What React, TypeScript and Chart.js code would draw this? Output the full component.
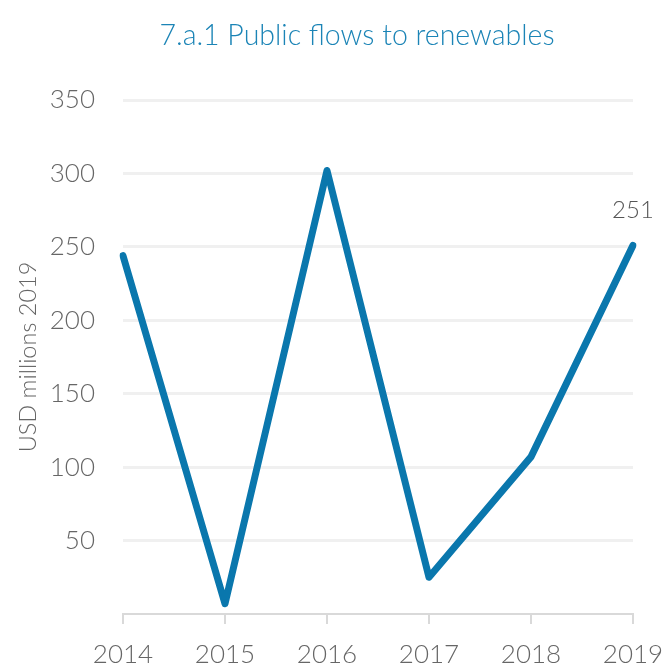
import React, { useEffect, useRef } from "react";
import { Chart, registerables } from "chart.js";

Chart.register(...registerables);

const years = ["2014", "2015", "2016", "2017", "2018", "2019"];
const publicFlows = [244, 7, 302, 25, 107, 251];
const yTicks = [50, 100, 150, 200, 250, 300, 350];
const chartTitle = "7.a.1 Public flows to renewables";
const yTitle = "USD millions 2019";

const FONT = "Lato, 'Open Sans', sans-serif";
const LINE = "#0a77ad";
const GREY = "#666666";

export default function App() {
  const ref = useRef<HTMLCanvasElement | null>(null);
  useEffect(() => {
    if (!ref.current) return;
    const titlePlugin = {
      id: "customTitle",
      afterDraw(chart: any) {
        const ctx = chart.ctx;
        ctx.save();
        ctx.font = `300 28.5px ${FONT}`;
        ctx.fillStyle = "#1b84b6";
        ctx.textAlign = "center";
        ctx.textBaseline = "middle";
        ctx.fillText(chartTitle, 357, 36);
        // last point label
        const meta = chart.getDatasetMeta(0);
        const last = meta.data[meta.data.length - 1];
        ctx.font = `300 24px ${FONT}`;
        ctx.fillStyle = "#555";
        ctx.fillText(String(publicFlows[publicFlows.length - 1]), last.x, last.y - 35);
        ctx.restore();
      },
    };
    const chart = new Chart(ref.current, {
      type: "line",
      data: {
        labels: years,
        datasets: [
          {
            data: publicFlows,
            borderColor: LINE,
            borderWidth: 7,
            pointRadius: 0,
            tension: 0,
            borderCapStyle: "round",
            borderJoinStyle: "round",
            fill: false,
          },
        ],
      },
      options: {
        animation: false,
        responsive: true,
        maintainAspectRatio: false,
        layout: { padding: { top: 100, right: 34, bottom: 0, left: 0 } },
        plugins: {
          legend: { display: false },
          title: { display: false },
          tooltip: { enabled: false },
        },
        scales: {
          x: {
            type: "category",
            offset: false,
            grid: {
              drawOnChartArea: false,
              drawTicks: true,
              tickLength: 10,
              color: "#d9d9d9",
              lineWidth: 2,
            },
            border: { color: "#d9d9d9", width: 2 },
            ticks: {
              color: GREY,
              font: { family: FONT, size: 26, weight: 300 },
              padding: 15,
              maxRotation: 0,
              autoSkip: false,
            },
            afterFit(scale: any) {
              scale.height = 54;
              scale.paddingLeft = 0;
              scale.paddingRight = 0;
            },
          },
          y: {
            min: 0,
            max: 350,
            afterBuildTicks(scale: any) {
              scale.ticks = [0, ...yTicks].map((v) => ({ value: v }));
            },
            grid: {
              drawTicks: false,
              color: (c: any) => (c.tick && c.tick.value === 0 ? "rgba(0,0,0,0)" : "#f0f0f0"),
              lineWidth: 3,
            },
            border: { display: false },
            ticks: {
              color: GREY,
              font: { family: FONT, size: 26, weight: 300 },
              padding: 28,
              callback: (v: any) => (v === 0 ? "" : String(v)),
            },
            title: {
              display: true,
              text: yTitle,
              color: GREY,
              font: { family: FONT, size: 23.5, weight: 300 },
              padding: { top: 14, bottom: 0 },
            },
            afterFit(scale: any) {
              scale.width = 123;
            },
          },
        },
      },
      plugins: [titlePlugin],
    });
    return () => chart.destroy();
  }, []);
  return (
    <div style={{ position: "fixed", left: 0, top: 0, width: 667, height: 668, background: "#fff" }}>
      <canvas ref={ref} />
    </div>
  );
}
